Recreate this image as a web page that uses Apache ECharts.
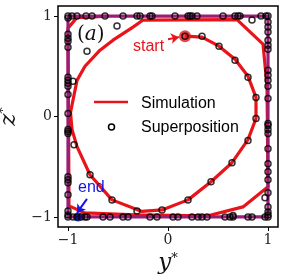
<!DOCTYPE html>
<html>
<head>
<meta charset="utf-8">
<script src="https://cdn.jsdelivr.net/npm/echarts@6/dist/echarts.min.js"></script>
<style>html,body{margin:0;padding:0;background:#fff}#c{width:285px;height:280px}</style>
</head>
<body>
<div id="c"></div>
<script>
// Simulation trajectory (y*, z*)
const simY = [0.17, 0.34, 0.51, 0.67, 0.80, 0.88, 0.88, 0.80, 0.64, 0.43, 0.20, -0.06, -0.26, -0.56, -0.78, -0.91, -0.96, -0.975, -0.91, -0.83, -0.68, -0.55, -0.35, -0.25, 0.69, 0.95, 0.99, 1.0, 0.75, 0.39, -0.33, -0.83, -0.99, -1.0, -0.91, -0.6];
const simZ = [0.80, 0.79, 0.70, 0.57, 0.40, 0.19, -0.02, -0.23, -0.46, -0.65, -0.83, -0.93, -0.945, -0.83, -0.58, -0.30, -0.13, 0.04, 0.36, 0.50, 0.66, 0.76, 0.89, 0.96, 0.965, 0.72, 0.31, -0.70, -0.90, -0.99, -0.98, -0.96, -0.89, 0.88, 0.985, 1.0];
// Limit cycle (square)
const sqY = [-1, 1, 1, -1, -1];
const sqZ = [1, 1, -1, -1, 1];
// Superposition points
const supTopY = [-1.0, -0.96, -0.91, -0.82, -0.76, -0.63, -0.45, -0.31, -0.28, -0.18, -0.16, 0.07, 0.20, 0.22, 0.24, 0.29, 0.55, 0.67, 0.70, 0.72, 0.93, 0.98, 1.0];
const supRightZ = [0.94, 0.89, 0.84, 0.76, 0.71, 0.67, 0.46, 0.41, 0.36, 0.30, 0.18, -0.07, -0.09, -0.13, -0.17, -0.32, -0.47, -0.55, -0.63, -0.76, -0.90, -0.95, -0.98];
const supBottomY = [-1.0, -0.95, -0.91, -0.87, -0.83, -0.81, -0.65, -0.58, -0.45, -0.40, -0.18, -0.11, 0.05, 0.10, 0.24, 0.30, 0.34, 0.39, 0.57, 0.62, 0.65, 0.80, 0.84, 0.97, 1.0];
const supLeftZ = [0.98, 0.82, 0.78, 0.75, 0.69, 0.39, 0.36, 0.33, 0.30, 0.22, 0.03, -0.13, -0.15, -0.17, -0.60, -0.63, -0.66, -0.78, -0.94, -0.98];
const supInnerY = [0.17, 0.34, 0.51, 0.67, 0.80, 0.88, 0.88, 0.80, 0.64, 0.43, 0.20, -0.06, -0.31, -0.56, -0.78, -0.94, -0.95, -0.81, -0.51, 0.84, 0.97, 0.65];
const supInnerZ = [0.80, 0.80, 0.70, 0.56, 0.39, 0.19, -0.02, -0.24, -0.46, -0.65, -0.83, -0.93, -0.94, -0.83, -0.58, -0.28, 0.35, 0.65, 0.90, 0.96, -0.81, -0.985];
// Markers
const startPt = [0.17, 0.80];
const endPt = [-0.90, -1.0];
const tickVals = [-1, 0, 1];

const simData = simY.map((y, i) => [y, simZ[i]]);
const sqData = sqY.map((y, i) => [y, sqZ[i]]);
const supData = []
  .concat(supTopY.map(y => [y, 1]))
  .concat(supRightZ.map(z => [1, z]))
  .concat(supBottomY.map(y => [y, -1]))
  .concat(supLeftZ.map(z => [-1, z]))
  .concat(supInnerY.map((y, i) => [y, supInnerZ[i]]));

const serif = 'DejaVu Serif';
const sans = 'Liberation Sans';
const chart = echarts.init(document.getElementById('c'), null, {renderer: 'canvas'});
const tickLabel = v => (v < 0 ? '\u2212' + Math.abs(v) : String(v));
chart.setOption({
  animation: false,
  grid: {left: 58, right: 7, top: 6, bottom: 53, containLabel: false, outerBoundsMode: 'none',
         show: true, borderColor: '#000', borderWidth: 1.5, backgroundColor: 'transparent'},
  tooltip: {show: false},
  xAxis: {
    type: 'value', min: -1.1, max: 1.1,
    axisLine: {show: false, onZero: false},
    splitLine: {show: false},
    axisTick: {show: true, customValues: tickVals, length: 4, lineStyle: {color: '#000', width: 1}},
    axisLabel: {customValues: tickVals, formatter: tickLabel, fontFamily: serif, fontSize: 14, color: '#222', margin: 6},
    name: '{i|y}{s|*}', nameLocation: 'middle', nameGap: 22,
    nameTextStyle: {rich: {i: {fontFamily: serif, fontStyle: 'italic', fontSize: 23, color: '#111'}, s: {fontFamily: serif, fontSize: 13, verticalAlign: 'top', color: '#111'}}}
  },
  yAxis: {
    type: 'value', min: -1.1, max: 1.1,
    axisLine: {show: false, onZero: false},
    splitLine: {show: false},
    axisTick: {show: true, customValues: tickVals, length: 4, lineStyle: {color: '#000', width: 1}},
    axisLabel: {customValues: tickVals, formatter: tickLabel, fontFamily: serif, fontSize: 14, color: '#222', margin: 6},
    name: '{i|z}{s|*}', nameLocation: 'middle', nameGap: 34, nameRotate: 90,
    nameTextStyle: {rich: {i: {fontFamily: serif, fontStyle: 'italic', fontSize: 23, color: '#111'}, s: {fontFamily: serif, fontSize: 13, verticalAlign: 'top', color: '#111'}}}
  },
  series: [
    {type: 'line', name: 'Simulation', data: simData, showSymbol: false, symbol: 'none', z: 2,
     lineStyle: {color: '#e8141a', width: 3.2, join: 'round'},
     markLine: {silent: true, symbol: ['none', 'arrow'], symbolSize: 8, label: {show: false},
       lineStyle: {color: '#e8141a', width: 2, type: 'solid'},
       data: [[{coord: [0.0, 0.77]}, {coord: [0.11, 0.79]}]]}},
    {type: 'line', name: 'Cycle', data: sqData, showSymbol: false, symbol: 'none', z: 3,
     lineStyle: {color: '#9a1e78', width: 3.2, join: 'miter'}},
    {type: 'scatter', name: 'Start', data: [startPt], symbol: 'circle', symbolSize: 12, z: 4,
     itemStyle: {color: '#e8141a'}},
    {type: 'scatter', name: 'End', data: [endPt], symbol: 'circle', symbolSize: 9, z: 4,
     itemStyle: {color: '#1414e6'},
     markLine: {silent: true, symbol: ['none', 'arrow'], symbolSize: 8, label: {show: false},
       lineStyle: {color: '#1414e6', width: 2, type: 'solid'},
       data: [[{coord: [-0.81, -0.82]}, {coord: [-0.91, -0.96]}]]}},
    {type: 'scatter', name: 'Superposition', data: supData, symbol: 'circle', symbolSize: 6, z: 5,
     itemStyle: {color: 'rgba(0,0,0,0)', borderColor: '#000', borderWidth: 1.5}}
  ],
  graphic: [
    {type: 'line', shape: {x1: 94, y1: 102, x2: 128, y2: 102}, style: {stroke: '#e8141a', lineWidth: 2.5}, z: 10},
    {type: 'text', x: 141, y: 96, style: {text: 'Simulation', fontFamily: sans, fontSize: 16, fill: '#000'}, z: 10},
    {type: 'circle', shape: {cx: 111.5, cy: 127, r: 3}, style: {fill: 'none', stroke: '#000', lineWidth: 1.5}, z: 10},
    {type: 'text', x: 141, y: 120, style: {text: 'Superposition', fontFamily: sans, fontSize: 16, fill: '#000'}, z: 10},
    {type: 'text', x: 133, y: 39, style: {text: 'start', fontFamily: sans, fontSize: 16, fill: '#e8141a'}, z: 10},
    {type: 'text', x: 78, y: 180, style: {text: 'end', fontFamily: sans, fontSize: 16, fill: '#1414e6'}, z: 10},
    {type: 'text', x: 77, y: 25, style: {text: '{p|(}{a|a}{p|)}', rich: {p: {fontFamily: serif, fontSize: 20, fill: '#111'}, a: {fontFamily: serif, fontStyle: 'italic', fontSize: 20, fill: '#111'}}}, z: 10}
  ]
});
</script>
</body>
</html>
